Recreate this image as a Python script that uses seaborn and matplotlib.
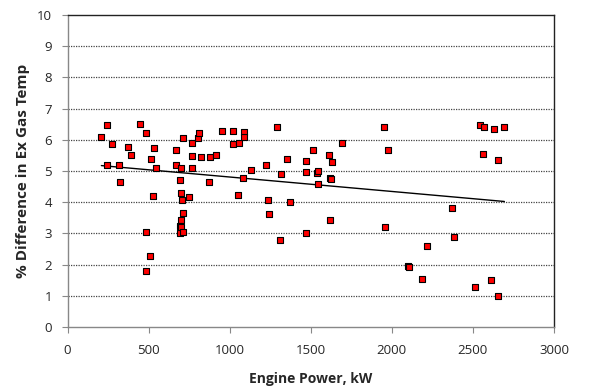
import matplotlib
matplotlib.use("Agg")
import matplotlib.pyplot as plt
import seaborn as sns
import numpy as np
import pandas as pd

engine_power_kw = [209, 242, 246, 275, 320, 326, 372, 392, 448, 483, 485, 485, 509, 515, 530, 536, 544,
                   669, 671, 698, 696, 700, 706, 710, 700, 694, 700, 696, 715, 715, 752, 766, 768, 770,
                   803, 809, 823, 873, 877, 915, 955, 1018, 1023, 1051, 1057, 1082, 1086, 1090, 1129,
                   1226, 1234, 1240, 1290, 1310, 1314, 1351, 1372, 1470, 1470, 1470, 1515, 1538, 1546,
                   1542, 1610, 1618, 1622, 1628, 1618, 1694, 1951, 1957, 1975, 2101, 2103, 2187, 2218,
                   2374, 2384, 2513, 2544, 2571, 2565, 2614, 2632, 2653, 2653, 2694]
pct_diff_ex_gas = [6.10, 6.48, 5.18, 5.86, 5.18, 4.66, 5.77, 5.50, 6.50, 6.23, 3.04, 1.79, 2.29, 5.37, 4.19,
                   5.74, 5.09, 5.67, 5.19, 5.09, 4.70, 4.29, 4.08, 3.64, 3.44, 3.24, 3.21, 3.02, 3.03, 6.06,
                   4.17, 5.09, 5.91, 5.49, 6.07, 6.23, 5.44, 4.64, 5.44, 5.52, 6.29, 5.86, 6.29, 4.23, 5.91,
                   4.77, 6.24, 6.10, 5.04, 5.18, 4.08, 3.61, 6.41, 2.80, 4.89, 5.39, 4.00, 5.33, 4.97, 3.01,
                   5.68, 4.92, 4.99, 4.59, 5.52, 4.77, 4.75, 5.29, 3.43, 5.89, 6.41, 3.21, 5.68, 1.95, 1.93,
                   1.54, 2.60, 3.82, 2.87, 1.28, 6.47, 6.42, 5.56, 1.52, 6.35, 5.36, 1.00, 6.42]

x_ticks = [0, 500, 1000, 1500, 2000, 2500, 3000]
y_ticks = list(range(0, 11))

df = pd.DataFrame({"power": engine_power_kw, "diff": pct_diff_ex_gas})

sns.set_style("white")
plt.rcParams["font.family"] = ["Open Sans", "DejaVu Sans"]

fig = plt.figure(figsize=(5.96, 3.87), dpi=100)
ax = fig.add_axes([67.5 / 596, 1 - 327 / 387, (554 - 67.5) / 596, (327 - 15) / 387])

for yv in y_ticks[1:-1]:
    ax.axhline(yv, color="#444444", lw=0.9, ls=(0, (1, 1)), zorder=1)

sns.regplot(data=df, x="power", y="diff", ax=ax, ci=None, scatter=False,
            line_kws=dict(color="black", lw=1.0, zorder=2))
sns.scatterplot(data=df, x="power", y="diff", ax=ax, marker="s", s=24,
                color="#ff0000", edgecolor="black", linewidth=0.8, zorder=3)

ax.set_xlim(0, 3000)
ax.set_ylim(0, 10)
ax.set_xticks(x_ticks)
ax.set_yticks(y_ticks)
ax.tick_params(axis="both", direction="out", length=4.3, width=0.8, color="#888888",
               labelsize=9.5, bottom=True, left=True)
ax.tick_params(axis="x", pad=8)
ax.tick_params(axis="y", pad=7)
for side in ["left", "bottom"]:
    ax.spines[side].set_color("#888888")
    ax.spines[side].set_linewidth(1.0)
for side in ["top", "right"]:
    ax.spines[side].set_color("#222222")
    ax.spines[side].set_linewidth(1.0)

ax.set_xlabel("Engine Power, kW", fontsize=10, fontweight="bold", labelpad=11)
ax.set_ylabel("% Difference in Ex Gas Temp", fontsize=11, fontweight="bold", labelpad=5)

fig.savefig("out.png", dpi=100)
